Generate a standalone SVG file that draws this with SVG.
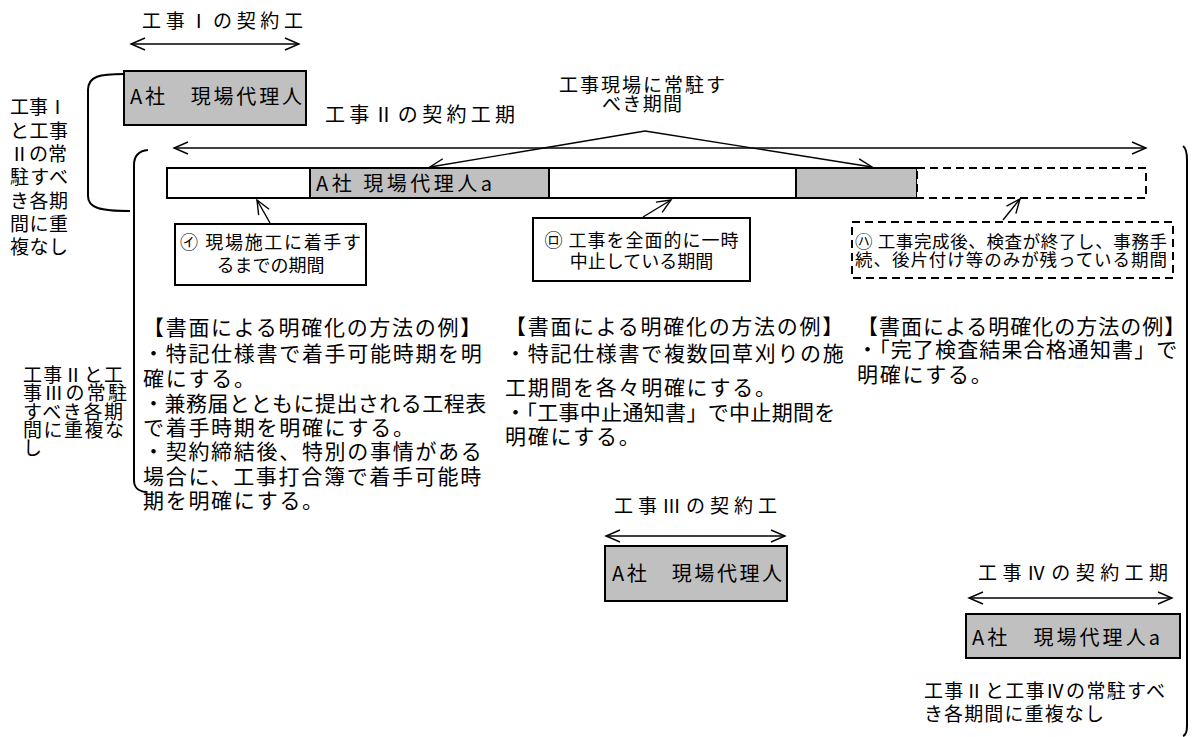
<svg xmlns="http://www.w3.org/2000/svg" width="1195" height="737" viewBox="0 0 1195 737">
<style>
text{font-family:"Noto Sans CJK JP","Liberation Sans",sans-serif;fill:#000}
.t19{font-size:19px}
.t18{font-size:18px}
.t17{font-size:17.5px}
.t20{font-size:20px}
.t21{font-size:21px;letter-spacing:1.7px}
.box{fill:#c0c0c0;stroke:#000;stroke-width:2}
.wbox{fill:#fff;stroke:#000;stroke-width:2}
.dash{fill:#fff;stroke:#000;stroke-width:2;stroke-dasharray:8 5}
.ln{fill:none;stroke:#000;stroke-width:1.4}
.br{fill:none;stroke:#000;stroke-width:2}
</style>
<defs>
<marker id="ah" viewBox="-16 -8 18 16" refX="0" refY="0" markerWidth="18" markerHeight="16" markerUnits="userSpaceOnUse" orient="auto-start-reverse">
<path d="M-14,-6 L0,0 L-14,6" fill="none" stroke="#000" stroke-width="1.4"/>
</marker>
</defs>
<rect width="1195" height="737" fill="#fff"/>

<g id="brackets">
<path class="br" d="M124,74 C100,74 88,76 88,90 L88,196 C88,208 100,211 130,211"/>
<path class="br" d="M148,150 C138,151 134,156 134,165 L134,480 C134,488 138,491 146,492"/>
<path class="br" d="M1183,146 C1186,148 1187,152 1187,160 L1187,726 C1187,732 1186,735 1183,736"/>
</g>

<g id="connectors">
<line class="ln" x1="131" y1="44" x2="299" y2="44" marker-start="url(#ah)" marker-end="url(#ah)"/>
<line class="ln" x1="174" y1="148" x2="1146" y2="148" marker-start="url(#ah)" marker-end="url(#ah)"/>
<line class="ln" x1="645" y1="131" x2="430" y2="167" marker-end="url(#ah)"/>
<line class="ln" x1="645" y1="131" x2="872" y2="167" marker-end="url(#ah)"/>
<line class="ln" x1="270" y1="223" x2="257" y2="200" marker-end="url(#ah)"/>
<line class="ln" x1="643" y1="217" x2="671" y2="200" marker-end="url(#ah)"/>
<line class="ln" x1="1003" y1="220" x2="1020" y2="199" marker-end="url(#ah)"/>
<line class="ln" x1="606" y1="536" x2="785" y2="536" marker-start="url(#ah)" marker-end="url(#ah)"/>
<line class="ln" x1="969" y1="598" x2="1172" y2="598" marker-start="url(#ah)" marker-end="url(#ah)"/>
</g>

<g id="label-k1">
<text class="t19" x="142" y="28" textLength="161" lengthAdjust="spacing">工事Ⅰの契約工</text>
</g>
<g id="node-k1">
<rect class="box" x="124" y="71" width="182" height="54"/>
<text class="t20" x="130" y="104" textLength="172" lengthAdjust="spacing">A社　現場代理人</text>
</g>
<g id="note-k1k2">
<text class="t19" x="10" y="114">工事Ⅰ</text>
<text class="t19" x="10" y="137.5" textLength="58" lengthAdjust="spacing">と工事</text>
<text class="t19" x="10" y="161">Ⅱの常</text>
<text class="t19" x="10" y="184" textLength="58" lengthAdjust="spacing">駐すべ</text>
<text class="t19" x="10" y="208" textLength="58" lengthAdjust="spacing">き各期</text>
<text class="t19" x="10" y="231" textLength="58" lengthAdjust="spacing">間に重</text>
<text class="t19" x="10" y="254" textLength="58" lengthAdjust="spacing">複なし</text>
</g>

<g id="label-k2">
<text class="t20" x="325" y="122" textLength="190" lengthAdjust="spacing">工事Ⅱの契約工期</text>
</g>
<g id="label-stay">
<text class="t19" x="642" y="92" text-anchor="middle" textLength="166" lengthAdjust="spacing">工事現場に常駐す</text>
<text class="t19" x="642" y="111" text-anchor="middle" textLength="80" lengthAdjust="spacing">べき期間</text>
</g>

<g id="bar">
<rect class="wbox" x="167" y="168" width="143" height="30"/>
<rect class="box" x="310" y="168" width="239" height="30"/>
<rect class="wbox" x="549" y="168" width="247" height="30"/>
<rect class="box" x="796" y="168" width="121" height="30"/>
<rect class="dash" x="917" y="168" width="229" height="30"/>
<text class="t20" x="316" y="191" textLength="176" lengthAdjust="spacing">A社 現場代理人a</text>
</g>

<g id="node-i">
<rect class="wbox" x="175" y="224" width="191" height="61"/>
<text class="t18" x="270.5" y="249" text-anchor="middle" textLength="181" lengthAdjust="spacing">㋑ 現場施工に着手す</text>
<text class="t18" x="270.5" y="272" text-anchor="middle">るまでの期間</text>
</g>
<g id="node-ro">
<rect class="wbox" x="533" y="218" width="217" height="63"/>
<text class="t18" x="641.5" y="247" text-anchor="middle" textLength="194" lengthAdjust="spacing">㋺ 工事を全面的に一時</text>
<text class="t18" x="641.5" y="268" text-anchor="middle">中止している期間</text>
</g>
<g id="node-ha">
<rect class="dash" x="852" y="222" width="321" height="56"/>
<text class="t17" x="855" y="248" textLength="312" lengthAdjust="spacing">㋩ 工事完成後、検査が終了し、事務手</text>
<text class="t17" x="855" y="266" textLength="312" lengthAdjust="spacing">続、後片付け等のみが残っている期間</text>
</g>

<g id="note-k2k3">
<text class="t19" x="23" y="382" textLength="100" lengthAdjust="spacing">工事Ⅱと工</text>
<text class="t19" x="23" y="400" textLength="104" lengthAdjust="spacing">事Ⅲの常駐</text>
<text class="t19" x="23" y="419" textLength="100" lengthAdjust="spacing">すべき各期</text>
<text class="t19" x="23" y="437" textLength="101" lengthAdjust="spacing">間に重複な</text>
<text class="t19" x="23" y="455">し</text>
</g>

<g id="text-col1">
<text class="t21" x="143" y="335">【書面による明確化の方法の例】</text>
<text class="t21" x="143" y="360.5">・特記仕様書で着手可能時期を明</text>
<text class="t21" x="143" y="386">確にする。</text>
<text class="t21" x="143" y="411" textLength="345" lengthAdjust="spacing">・兼務届とともに提出される工程表</text>
<text class="t21" x="143" y="435">で着手時期を明確にする。</text>
<text class="t21" x="143" y="459">・契約締結後、特別の事情がある</text>
<text class="t21" x="143" y="483.5">場合に、工事打合簿で着手可能時</text>
<text class="t21" x="143" y="508">期を明確にする。</text>
</g>
<g id="text-col2">
<text class="t21" x="505" y="334">【書面による明確化の方法の例】</text>
<text class="t21" x="505" y="361">・特記仕様書で複数回草刈りの施</text>
<text class="t21" x="505" y="395">工期間を各々明確にする。</text>
<text class="t21" x="505" y="420" textLength="332" lengthAdjust="spacing">・「工事中止通知書」で中止期間を</text>
<text class="t21" x="505" y="444">明確にする。</text>
</g>
<g id="text-col3">
<text class="t21" x="857" y="334" textLength="330" lengthAdjust="spacing">【書面による明確化の方法の例】</text>
<text class="t21" x="857" y="357" textLength="322" lengthAdjust="spacing">・「完了検査結果合格通知書」で</text>
<text class="t21" x="857" y="382">明確にする。</text>
</g>

<g id="label-k3">
<text class="t19" x="614" y="513" textLength="163" lengthAdjust="spacing">工事Ⅲの契約工</text>
</g>
<g id="node-k3">
<rect class="box" x="605" y="546" width="182" height="55"/>
<text class="t20" x="612" y="581" textLength="170" lengthAdjust="spacing">A社　現場代理人</text>
</g>
<g id="label-k4">
<text class="t19" x="978" y="580" textLength="190" lengthAdjust="spacing">工事Ⅳの契約工期</text>
</g>
<g id="node-k4">
<rect class="box" x="966" y="614" width="214" height="44"/>
<text class="t20" x="972" y="645" textLength="188" lengthAdjust="spacing">A社　現場代理人a</text>
</g>
<g id="note-k2k4">
<text class="t19" x="924" y="698" textLength="241" lengthAdjust="spacing">工事Ⅱと工事Ⅳの常駐すべ</text>
<text class="t19" x="924" y="721" textLength="180" lengthAdjust="spacing">き各期間に重複なし</text>
</g>
</svg>
